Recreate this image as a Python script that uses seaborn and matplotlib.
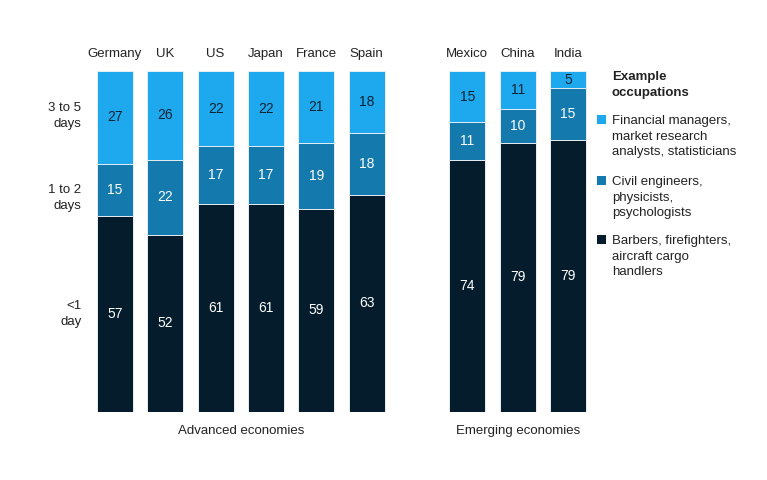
"""Stacked bars: share of work time by task duration, advanced vs emerging economies."""

import matplotlib.pyplot as plt
import matplotlib.transforms as mtransforms
from matplotlib.patches import Rectangle
import pandas as pd
import seaborn as sns

advanced = ["Germany", "UK", "US", "Japan", "France", "Spain"]
emerging = ["Mexico", "China", "India"]
countries = advanced + emerging

# segment values, bottom to top
under_1_day = [57, 52, 61, 61, 59, 63, 74, 79, 79]
one_to_2_days = [15, 22, 17, 17, 19, 18, 11, 10, 15]
three_to_5_days = [27, 26, 22, 22, 21, 18, 15, 11, 5]

segment_labels = ["<1\nday", "1 to 2\ndays", "3 to 5\ndays"]
legend_labels = [
    "Barbers, firefighters,\naircraft cargo\nhandlers",
    "Civil engineers,\nphysicists,\npsychologists",
    "Financial managers,\nmarket research\nanalysts, statisticians",
]
group_labels = ["Advanced economies", "Emerging economies"]

colors = ["#051c2c", "#1479ad", "#1ea9ef"]
text_colors = ["white", "white", "#0b2233"]
ink = "#222222"

sns.set_theme(style="white")
plt.rcParams["font.family"] = ["Liberation Sans", "DejaVu Sans"]

df = pd.DataFrame(
    {
        "country": countries,
        "low": under_1_day,
        "mid": one_to_2_days,
        "high": three_to_5_days,
    }
)
df["total"] = df[["low", "mid", "high"]].sum(axis=1)
for col in ["low", "mid", "high"]:
    df[col + "_pct"] = df[col] / df["total"] * 100
df["c1"] = df["low_pct"]
df["c2"] = df["c1"] + df["mid_pct"]
df["c3"] = df["c2"] + df["high_pct"]

# blank slot between the two groups
order = advanced + [" "] + emerging

fig = plt.figure(figsize=(7.67, 4.8), dpi=100)
ax = fig.add_axes([0.1171, 0.1417, 0.6562, 0.7104])

for cum_col, color in zip(["c3", "c2", "c1"], colors[::-1]):
    sns.barplot(
        data=df, x="country", y=cum_col, order=order, color=color,
        width=0.716, errorbar=None, edgecolor="#e8eef3", linewidth=0.7,
        saturation=1, ax=ax,
    )

ax.set_ylim(0, 100)
ax.set_xlim(-0.5, len(order) - 0.5)
ax.set_xlabel("")
ax.set_ylabel("")
for s in ax.spines.values():
    s.set_visible(False)

# country names above bars
ax.xaxis.tick_top()
ax.tick_params(axis="x", length=0, pad=8, labelsize=9.5, labelcolor=ink)

# segment names as y tick labels, near Germany's segments
g = df.iloc[0]
ax.set_yticks(
    [g["c1"] / 2 + 1, (g["c1"] + g["c2"]) / 2 - 1.5, (g["c2"] + g["c3"]) / 2 + 1.5],
    segment_labels,
)
ax.tick_params(axis="y", length=0, pad=6, labelsize=9.5, labelcolor=ink)
for t in ax.get_yticklabels():
    t.set_linespacing(1.45)

# value labels inside segments
for _, row in df.iterrows():
    xpos = order.index(row["country"])
    bounds = [0, row["c1"], row["c2"], row["c3"]]
    vals = [row["low"], row["mid"], row["high"]]
    for i, v in enumerate(vals):
        ax.text(
            xpos, (bounds[i] + bounds[i + 1]) / 2, f"{v}",
            ha="center", va="center", fontsize=10, color=text_colors[i],
        )

# group labels below
trans = mtransforms.blended_transform_factory(ax.transData, ax.transAxes)
adv_center = (order.index(advanced[0]) + order.index(advanced[-1])) / 2
emg_center = (order.index(emerging[0]) + order.index(emerging[-1])) / 2
for xc, lab in zip([adv_center, emg_center], group_labels):
    ax.text(xc, -0.056, lab, transform=trans, ha="center", va="center",
            fontsize=9.5, color=ink)

# legend drawn by hand so squares sit on the first line
W, H = 767, 480
fig.text(612 / W, 1 - 71 / H, "Example\noccupations", fontsize=9.5,
         fontweight="bold", color=ink, va="top", ha="left", linespacing=1.4)
legend_tops = [235, 176, 115]
for top, lab, color in zip(legend_tops, legend_labels, colors):
    fig.patches.append(
        Rectangle((597 / W, 1 - (top + 9) / H), 9 / W, 9 / H,
                  transform=fig.transFigure, facecolor=color, edgecolor="none")
    )
    fig.text(612 / W, 1 - top / H, lab, fontsize=9.5, color=ink,
             va="top", ha="left", linespacing=1.4)

plt.savefig("out.png", dpi=100)
